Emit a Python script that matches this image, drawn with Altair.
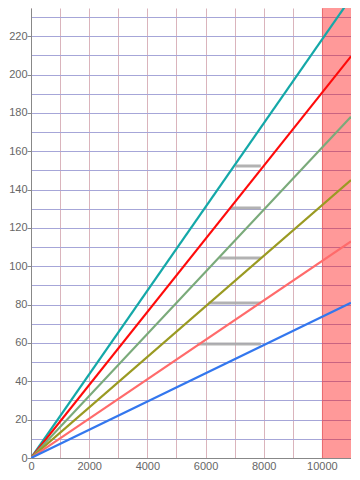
import altair as alt
import pandas as pd

# Series: straight lines from the origin, value at x = 11000
series_names = ["teal", "red", "green", "olive", "salmon", "blue"]
series_end_values = [240.0, 209.5, 178.0, 145.0, 113.0, 81.0]
series_colors = ["#14a8a8", "#ff0a0a", "#7aaa7a", "#9a9a22", "#ff6b6b", "#3377ee"]
x_start = 0
x_end = 11000

# Gray horizontal segments
seg_y = [152.3, 130.4, 104.3, 80.9, 59.5]
seg_x1 = [7040, 6840, 6480, 6100, 5720]
seg_x2 = [7900, 7900, 7900, 7900, 7900]

# Shaded band
band_x1 = [10000]
band_x2 = [11000]

x_grid_values = list(range(0, 11001, 1000))
y_grid_values = list(range(0, 231, 10))

rows = []
for n, v in zip(series_names, series_end_values):
    rows.append({"series": n, "x": x_start, "y": 0.0})
    rows.append({"series": n, "x": x_end, "y": v})
lines_df = pd.DataFrame(rows)
seg_df = pd.DataFrame({"y": seg_y, "x1": seg_x1, "x2": seg_x2})
band_df = pd.DataFrame({"x1": band_x1, "x2": band_x2})

W, H = 320, 450
xscale = alt.Scale(domain=[0, 11000], nice=False, zero=False)
yscale = alt.Scale(domain=[0, 234.7], nice=False)

xaxis = alt.Axis(
    values=x_grid_values,
    labelExpr="datum.value % 2000 == 0 ? datum.label : ''",
    format="d",
    ticks=False,
    grid=True,
    gridColor="#dab4bc",
    gridWidth=1,
    domainColor="#888888",
    labelColor="#666666",
    labelFont="Liberation Sans",
    labelFontSize=11,
    labelPadding=2,
    labelFlush=False,
    labelOverlap=False,
    title=None,
)
yaxis = alt.Axis(
    values=y_grid_values,
    labelExpr="datum.value % 20 == 0 ? datum.label : ''",
    format="d",
    tickSize=4,
    tickColor="#888888",
    tickOpacity={"condition": {"test": "datum.value % 20 != 0", "value": 0}, "value": 1},
    grid=True,
    gridColor="#a6a6d8",
    gridWidth=1,
    domainColor="#888888",
    labelColor="#666666",
    labelFont="Liberation Sans",
    labelFontSize=11,
    labelPadding=0,
    labelOverlap=False,
    title=None,
)

band = alt.Chart(band_df).mark_rect(color="red", opacity=0.4).encode(
    x=alt.X("x1:Q", scale=xscale, axis=xaxis),
    x2="x2:Q",
)

segs = alt.Chart(seg_df).mark_rule(color="#aaaaaa", strokeWidth=3, opacity=0.9).encode(
    x=alt.X("x1:Q", scale=xscale, axis=xaxis),
    x2="x2:Q",
    y=alt.Y("y:Q", scale=yscale, axis=yaxis),
)

lines = alt.Chart(lines_df).mark_line(strokeWidth=2.2, clip=True).encode(
    x=alt.X("x:Q", scale=xscale, axis=xaxis),
    y=alt.Y("y:Q", scale=yscale, axis=yaxis),
    color=alt.Color("series:N", scale=alt.Scale(domain=series_names, range=series_colors), legend=None),
    detail="series:N",
)

chart = alt.layer(band, segs, lines).properties(
    width=W, height=H, padding=0
).configure_view(stroke=None)

chart.save("out.html", embed_options={"renderer": "svg", "actions": False})
